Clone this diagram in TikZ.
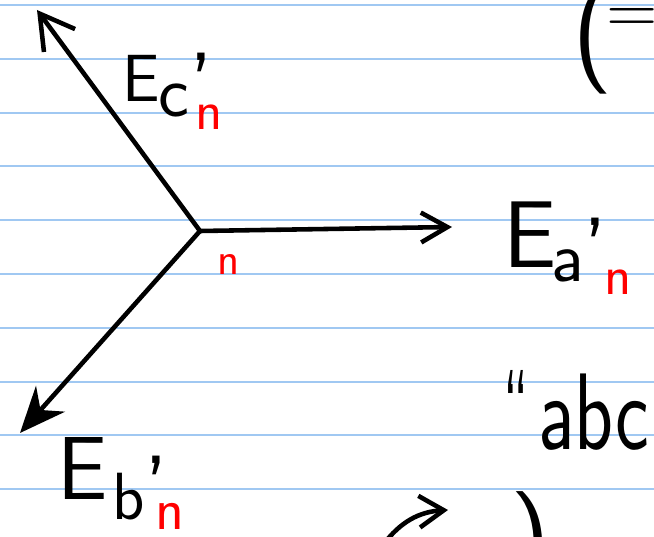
\documentclass[tikz,border=0pt]{standalone}
\usepackage{tikz}
\usetikzlibrary{arrows.meta}

\definecolor{ruleblue}{RGB}{160,200,242}
\newcommand{\hw}[1]{\sffamily\fontsize{#1}{#1}\selectfont}
\newcommand{\tick}{{\hw{52}'}}

\begin{document}
\begin{tikzpicture}[x=0.02cm, y=-0.02cm,
  pen/.style={line width=2.6pt, line cap=round, line join=round},
  txt/.style={inner sep=0, anchor=base west},
  redn/.style={txt, red, font=\hw{32}}]
\useasboundingbox (0,0) rectangle (654,537);
\clip (0,0) rectangle (654,537);
\fill[white] (0,0) rectangle (654,537);
\foreach \k in {0,...,9} {
\draw[ruleblue, line width=1.1pt] (0,5+53.8*\k) -- (654,5+53.8*\k);
}
\coordinate (o) at (200,231);
\coordinate (tc) at (37,10);
\coordinate (ta) at (452,227);
\coordinate (tb) at (20,433);
\draw[pen, -{Straight Barb[length=19pt, width=22pt]}] (o) -- (tc);
\draw[pen, -{Straight Barb[length=15pt, width=17pt]}] (o) -- (ta);
\draw[pen, -{Stealth[length=26pt, width=22pt]}] (o) -- (tb);
\node[txt, font=\hw{38}] (ecE) at (122,102) {E};
\node[txt, font=\hw{42}] (ecc) at (158,117) {c\tick};
\node[redn] (ecn) at (195,130) {n};
\node[txt, font=\hw{54}] (eaE) at (503,268) {E};
\node[txt, font=\hw{41}] (eaa) at (551,282) {a\tick};
\node[redn] (ean) at (604,295) {n};
\node[txt, font=\hw{51}] (ebE) at (57,500) {E};
\node[txt, font=\hw{38}] (ebb) at (112,520) {b\tick};
\node[redn, font=\hw{34}] (ebn) at (155,530) {n};
\node[redn, font=\hw{26}] (on) at (217,275) {n};
\node[txt, font=\hw{64}] (quote) at (503,449) {\scalebox{0.5}[1]{``}};
\node[txt, font=\hw{62}] (abc) at (538,450) {\scalebox{0.74}[1]{abc}};
\node[txt, font=\hw{63}] (lpar) at (572,67) {(};
\node[txt, font=\hw{40}] (eq) at (606,34) {=};
\node[txt, font=\hw{63}] (rpar) at (510,575) {)};
\coordinate (cs) at (383,545);
\coordinate (ce) at (448,510);
\draw[pen, -{Straight Barb[length=14pt, width=18pt]}] (cs) to[bend left=25] (ce);
\end{tikzpicture}
\end{document}
